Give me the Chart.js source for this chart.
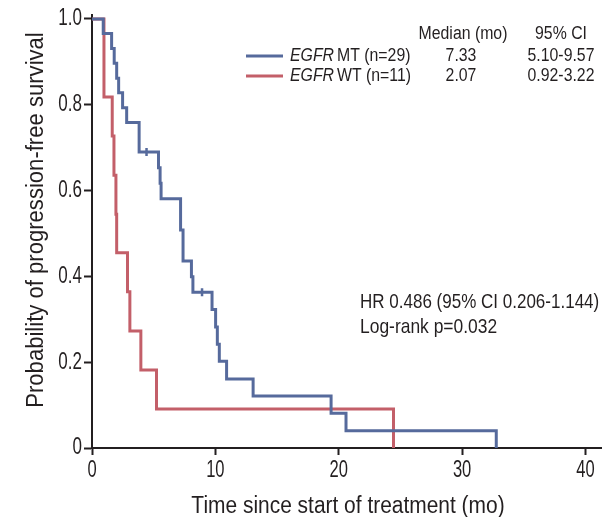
<!DOCTYPE html>
<html>
<head>
<meta charset="utf-8">
<script src="https://cdn.jsdelivr.net/npm/chart.js@4.4.1/dist/chart.umd.min.js"></script>
<style>
  html, body { margin: 0; padding: 0; background: #fff; }
  canvas { display: block; }
</style>
</head>
<body>
<canvas id="pfsChart" width="608" height="517"></canvas>
<script>
// Kaplan-Meier steps (time in months, survival after the drop)
const mtTime = [0, 0.91, 1.59, 1.80, 2.00, 2.16, 2.48, 2.81, 3.82, 5.39, 5.52, 5.60, 7.18, 7.38, 8.06, 8.18, 9.73, 10.02, 10.16, 10.32, 10.91, 13.06, 19.38, 20.59, 32.77];
const mtSurv = [1, 0.966, 0.931, 0.897, 0.862, 0.828, 0.793, 0.759, 0.690, 0.653, 0.617, 0.581, 0.508, 0.436, 0.399, 0.363, 0.323, 0.282, 0.242, 0.202, 0.161, 0.121, 0.081, 0.040, 0];
const mtCensorTime = [4.42, 8.92];
const mtCensorSurv = [0.690, 0.363];

const wtTime = [0, 0.97, 1.64, 1.78, 1.94, 2.00, 2.88, 3.07, 3.96, 5.23, 24.44];
const wtSurv = [1, 0.818, 0.727, 0.636, 0.545, 0.455, 0.364, 0.273, 0.182, 0.091, 0];

const seriesLabels = ["MT (n=29)", "WT (n=11)"];
const medians = ["7.33", "2.07"];
const ci95 = ["5.10-9.57", "0.92-3.22"];
const statLines = ["HR 0.486 (95% CI 0.206-1.144)", "Log-rank p=0.032"];
const xTitle = "Time since start of treatment (mo)";
const yTitle = "Probability of progression-free survival";

const BLUE = "#566a9c";
const RED = "#c35f69";
const INK = "#231f20";
const FONT = '"Liberation Sans", Arial, sans-serif';

function toPoints(xs, ys) {
  return xs.map((x, i) => ({ x: x, y: ys[i] }));
}

function yLabel(v) {
  return v === 0 ? "0" : v.toFixed(1);
}

// the original uses a condensed face, so squeeze the text horizontally
function squeezed(ctx, text, x, y, sx, align) {
  ctx.save();
  ctx.translate(x, y);
  ctx.scale(sx, 1);
  ctx.textAlign = align;
  ctx.fillText(text, 0, 0);
  ctx.restore();
}

const notesPlugin = {
  id: "kmNotes",
  afterDraw(chart) {
    const ctx = chart.ctx;
    const xs = chart.scales.x;
    const ys = chart.scales.y;
    ctx.save();
    ctx.fillStyle = INK;
    ctx.textBaseline = "middle";

    // tick labels
    ctx.font = "23px " + FONT;
    xs.ticks.forEach((t) => {
      squeezed(ctx, String(t.value), xs.getPixelForValue(t.value), 471, 0.72, "center");
    });
    ys.ticks.forEach((t) => {
      squeezed(ctx, yLabel(t.value), 82, ys.getPixelForValue(t.value), 0.74, "right");
    });

    // legend table
    ctx.font = "18px " + FONT;
    squeezed(ctx, "Median (mo)", 463, 34, 0.88, "center");
    squeezed(ctx, "95% CI", 561, 34, 0.88, "center");

    const rowY = [56, 76];
    const colors = [BLUE, RED];
    for (let i = 0; i < 2; i++) {
      ctx.strokeStyle = colors[i];
      ctx.lineWidth = 3;
      ctx.beginPath();
      ctx.moveTo(246, rowY[i]);
      ctx.lineTo(283, rowY[i]);
      ctx.stroke();

      ctx.font = "italic 18px " + FONT;
      squeezed(ctx, "EGFR", 290, rowY[i], 0.88, "left");
      const w = ctx.measureText("EGFR").width * 0.88;
      ctx.font = "18px " + FONT;
      squeezed(ctx, seriesLabels[i], 290 + w + 3, rowY[i], 0.88, "left");
      squeezed(ctx, medians[i], 461, rowY[i], 0.88, "center");
      squeezed(ctx, ci95[i], 561, rowY[i], 0.88, "center");
    }

    // stats
    ctx.textBaseline = "alphabetic";
    ctx.font = "21px " + FONT;
    squeezed(ctx, statLines[0], 360, 308, 0.81, "left");
    squeezed(ctx, statLines[1], 360, 333, 0.83, "left");

    // axis titles
    ctx.font = "23px " + FONT;
    squeezed(ctx, xTitle, 348, 513, 0.91, "center");

    ctx.translate(43, 220);
    ctx.rotate(-Math.PI / 2);
    squeezed(ctx, yTitle, 0, 0, 0.96, "center");
    ctx.restore();
  }
};

const ctx = document.getElementById("pfsChart").getContext("2d");

const pfsChart = new Chart(ctx, {
  type: "scatter",
  data: {
    datasets: [
      {
        label: "EGFR MT",
        data: toPoints(mtTime, mtSurv),
        showLine: true,
        stepped: "before",
        borderColor: BLUE,
        borderWidth: 3,
        borderJoinStyle: "miter",
        pointRadius: 0,
        order: 1,
      },
      {
        label: "EGFR MT censored",
        data: toPoints(mtCensorTime, mtCensorSurv),
        showLine: false,
        pointStyle: "line",
        rotation: 90,
        pointRadius: 4,
        pointBorderWidth: 2.5,
        borderColor: BLUE,
        backgroundColor: BLUE,
        order: 0,
      },
      {
        label: "EGFR WT",
        data: toPoints(wtTime, wtSurv),
        showLine: true,
        stepped: "before",
        borderColor: RED,
        borderWidth: 3,
        borderJoinStyle: "miter",
        pointRadius: 0,
        order: 2,
      },
    ],
  },
  options: {
    responsive: false,
    animation: false,
    devicePixelRatio: 1,
    layout: {
      padding: { top: 15, right: 5, bottom: 0, left: 0 },
    },
    plugins: {
      legend: { display: false },
      tooltip: { enabled: false },
    },
    scales: {
      x: {
        type: "linear",
        min: 0,
        max: 41.3,
        ticks: {
          display: false,
          stepSize: 10,
          includeBounds: false,
        },
        grid: {
          drawOnChartArea: false,
          drawTicks: true,
          tickLength: 7,
          tickWidth: 2,
          color: INK,
        },
        border: { color: INK, width: 2 },
        afterFit: (scale) => {
          scale.height = 69;
        },
      },
      y: {
        min: 0,
        max: 1.0093,
        ticks: {
          display: false,
          stepSize: 0.2,
          includeBounds: false,
        },
        grid: {
          drawOnChartArea: false,
          drawTicks: true,
          tickLength: 8,
          tickWidth: 2,
          color: INK,
        },
        border: { color: INK, width: 2 },
        afterFit: (scale) => {
          scale.width = 92;
        },
      },
    },
  },
  plugins: [notesPlugin],
});
</script>
</body>
</html>
